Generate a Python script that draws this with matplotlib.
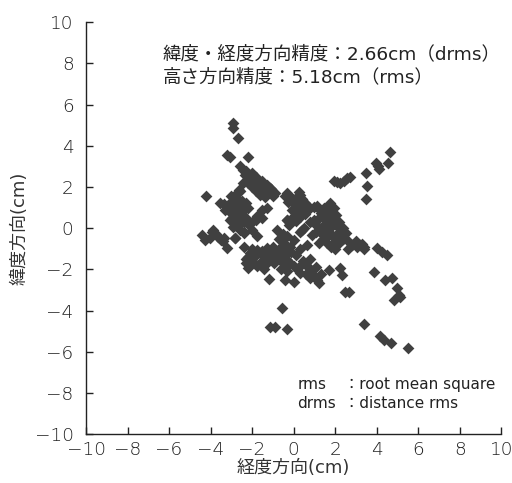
import matplotlib
matplotlib.use("Agg")
import matplotlib.pyplot as plt

plt.rcParams['font.family'] = ['DejaVu Sans', 'Noto Sans CJK JP']

# longitude-direction error (cm)
x_vals = [
    # upper-left arm
    -2.94, -2.94, -2.68, -3.21, -3.05, -2.22, -2.57, -2.44, -2.33,
    -2.3, -2.0, -1.8, -1.5, -1.3, -1.1, -0.9, -2.2, -2.0, -1.8, -1.6, -1.4, -2.1, -1.9, -1.7,
    -1.2, -1.0, -1.6, -1.75, -2.45, -2.6, -2.7, -2.5, -2.3, -1.45, -1.15,
    # left group
    -4.20, -3.53, -3.37, -3.2, -3.05, -2.89, -2.73, -2.65, -2.85, -2.6, -2.4, -2.2, -2.9, -2.7, -2.5, -2.3,
    -3.05, -2.8, -2.6, -2.4, -2.2, -2.0, -1.8, -1.5, -1.29, -1.5, -2.9, -2.6, -2.81, -2.4, -1.77, -2.0, -1.77,
    -3.3, -3.1, -2.95, -2.75, -2.55, -3.0, -2.7,
    # far left lower
    -4.41, -4.26, -3.86, -3.95, -3.65, -3.5, -3.75, -3.21, -3.4, -4.01, -3.37, -2.81, -2.41,
    # centre top
    -0.32, -0.16, 0.0, -0.1, 0.0, 0.1, -0.16, 0.24, 0.32, 0.4, 0.56, 0.72, 0.56, 0.3, -0.3, -0.2, 0.0, 0.2, 0.1, 0.5,
    -0.32, -0.16, -0.4, -0.25, 0.15, 0.35, 0.65, 0.45, -0.05, 0.2,
    # centre lower
    -0.80, -0.32, 0.0, -0.16, -0.48, -0.64, -0.8, -1.12, -1.29, -1.45, -1.61, -1.77, -1.29, -0.96, -0.64, -0.48,
    -0.32, -0.16, 0.0, 0.16, 0.32, 0.32, 0.48, 0.64, 0.8, 0.96, 1.12, 1.2, -2.1, -2.2, -2.3, -2.2, -2.05, -1.9, -1.77,
    -1.17, -0.43, 0.0, -0.56, -1.12, -0.88, -0.32, -1.0, -0.7, -0.5, -0.3, -0.9, -0.6, -0.3, 0.6, 0.8,
    -2.4, -2.0, -1.6, -1.45, -1.0, -0.5, 0.3, 0.8, 1.1, 1.3,
    -1.3, -1.1, -0.9, -0.7, -0.5, -1.2, -0.8, -0.4, -1.5, -1.9, -2.3, -0.15, 0.1, 0.45,
    # right cluster
    0.96, 1.12, 1.28, 1.44, 1.6, 1.77, 1.93, 1.4, 1.2, 1.0, 0.8, 1.6, 1.8, 2.0, 2.2, 2.4, 2.2, 1.5, 1.3, 1.1, 0.9,
    1.6, 1.8, 2.0, 1.4, 1.6, 1.8, 2.0, 1.2, 2.2, 2.4, 2.6, 2.8, 2.6, 0.40, 0.5, 0.3, 0.65, 3.0, 3.2, 3.4, 3.3,
    1.3, 1.5, 1.7, 1.9, 2.1, 1.1, 1.35, 1.65, 1.95, 2.3, 2.5, 1.75, 1.45, 2.05,
    3.05, 3.37, 4.02, 4.26, 4.50,
    # lower-right arm
    1.69, 2.25, 2.33, 2.65, 2.49, 3.89, 4.42, 4.74, 4.98, 5.06, 4.82, 5.14,
    3.37, 4.18, 4.34, 4.69, 5.49,
    # upper-right arm
    1.93, 2.09, 2.25, 2.41, 2.57, 2.73, 3.49, 3.54, 3.50, 3.99, 4.10, 4.53, 4.63, 4.05,
]
# latitude-direction error (cm)
y_vals = [
    5.10, 4.86, 4.37, 3.56, 3.45, 3.48, 3.04, 2.83, 2.59,
    2.8, 2.7, 2.5, 2.3, 2.1, 1.9, 1.7, 2.2, 2.0, 1.8, 1.6, 1.5, 2.45, 2.3, 2.15,
    1.75, 1.55, 2.1, 1.95, 2.2, 1.8, 1.4, 1.3, 1.2, 1.85, 1.95,
    1.54, 1.21, 1.18, 1.1, 1.21, 1.38, 1.70, 1.86, 1.0, 0.9, 0.95, 1.0, 0.7, 0.6, 0.7, 0.5,
    0.40, 0.3, 0.2, 0.3, 0.2, 0.3, 0.4, 0.5, 0.97, 0.9, 0.05, -0.1, -0.49, -0.2, -0.40, -0.1, 0.57,
    0.9, 0.85, 0.5, 0.85, 0.45, 1.55, 1.2,
    -0.32, -0.57, -0.08, -0.2, -0.45, -0.55, -0.3, -0.97, -0.6, -0.49, -0.49, -0.49, -0.24,
    1.70, 1.5, 1.2, 0.9, 0.6, 0.35, 0.35, 1.78, 1.6, 1.4, 1.2, 1.05, 0.7, 0.55, 0.4, 0.15, 1.0, 1.1, 1.45, 0.9,
    0.40, 0.24, 1.55, 1.25, 0.75, 0.8, 0.85, 1.3, 1.4, 0.5,
    -0.08, -0.40, -0.55, -0.9, -0.7, -0.95, -1.2, -1.2, -1.4, -1.55, -1.7, -1.85, -1.7, -1.7, -1.55, -1.4,
    -1.55, -1.7, -1.85, -2.0, -2.17, -1.85, -1.7, -1.85, -2.0, -2.33, -2.5, -2.65, -1.2, -1.38, -1.7, -1.95, -1.55, -1.38, -1.05,
    -2.48, -2.51, -2.59, -3.89, -4.81, -4.81, -4.88, -0.9, -0.5, -1.1, -1.2, -1.5, -2.0, -2.1, -2.2, -2.4,
    -0.9, -1.0, -1.2, -2.0, -1.3, -0.3, -1.0, -1.5, -1.9, -2.2,
    -0.95, -1.05, -1.1, -1.3, -0.85, -1.55, -1.35, -1.75, -1.1, -1.7, -1.5, -1.15, -1.3, -1.6,
    1.05, 1.1, 0.9, 1.0, 0.95, 1.2, 1.0, 0.7, 0.5, 0.4, 0.3, 0.6, 0.5, 0.4, 0.3, 0.0, -0.2, 0.2, 0.0, -0.2, -0.35,
    -0.1, -0.3, -0.5, -0.5, -0.7, -0.9, -1.0, -0.7, -0.7, -0.5, -0.6, -0.8, -1.0, -0.08, 0.0, -0.2, -0.81, -0.6, -0.8, -1.0, -0.75,
    0.75, 0.45, 0.3, 0.15, 0.1, 0.15, -0.3, -0.35, -0.7, -0.35, -0.25, 0.75, 0.9, 0.65,
    -0.89, -0.89, -0.97, -1.14, -1.30,
    -2.03, -1.94, -2.27, -3.08, -3.08, -2.14, -2.51, -2.43, -2.92, -3.24, -3.48, -3.32,
    -4.66, -5.23, -5.43, -5.59, -5.83,
    2.27, 2.22, 2.19, 2.27, 2.43, 2.51, 2.70, 2.06, 1.41, 3.19, 2.87, 3.19, 3.69, 3.0,
]

tick_vals = [-10, -8, -6, -4, -2, 0, 2, 4, 6, 8, 10]
tick_labels = ['−10', '−8', '−6', '−4', '−2', '0', '2', '4', '6', '8', '10']

fig = plt.figure(figsize=(5.12, 4.83), dpi=100)
ax = fig.add_axes([0.168, 0.101, 0.811, 0.853])

ax.scatter(x_vals, y_vals, marker='D', s=36, color='#404040', linewidths=0, zorder=3)

ax.set_xlim(-10, 10)
ax.set_ylim(-10, 10)
ax.set_xticks(tick_vals)
ax.set_yticks(tick_vals)
ax.set_xticklabels(tick_labels)
ax.set_yticklabels(tick_labels)
ax.tick_params(direction='in', length=5, width=1, labelsize=13.3, pad=5, colors='#222222')
ax.tick_params(axis='y', pad=9)
for lab in ax.get_xticklabels() + ax.get_yticklabels():
    lab.set_fontweight('light')
for s in ['top', 'right']:
    ax.spines[s].set_visible(False)
for s in ['left', 'bottom']:
    ax.spines[s].set_linewidth(1)
    ax.spines[s].set_color('#222222')

ax.set_xlabel('経度方向(cm)', fontsize=13, labelpad=0, color='#333333')
ax.set_ylabel('緯度方向(cm)', fontsize=13, labelpad=4, color='#333333')

ax.text(-6.3, 8.45, '緯度・経度方向精度：2.66cm（drms）', fontsize=13.3, va='center', ha='left', color='#222222')
ax.text(-6.3, 7.35, '高さ方向精度：5.18cm（rms）', fontsize=13.3, va='center', ha='left', color='#222222')

ax.text(0.18, -7.6, 'rms', fontsize=11, va='center', ha='left', color='#222222')
ax.text(2.45, -7.6, '：root mean square', fontsize=11, va='center', ha='left', color='#222222')
ax.text(0.18, -8.5, 'drms', fontsize=11, va='center', ha='left', color='#222222')
ax.text(2.45, -8.5, '：distance rms', fontsize=11, va='center', ha='left', color='#222222')

fig.savefig('out.png', dpi=100, facecolor='white')
